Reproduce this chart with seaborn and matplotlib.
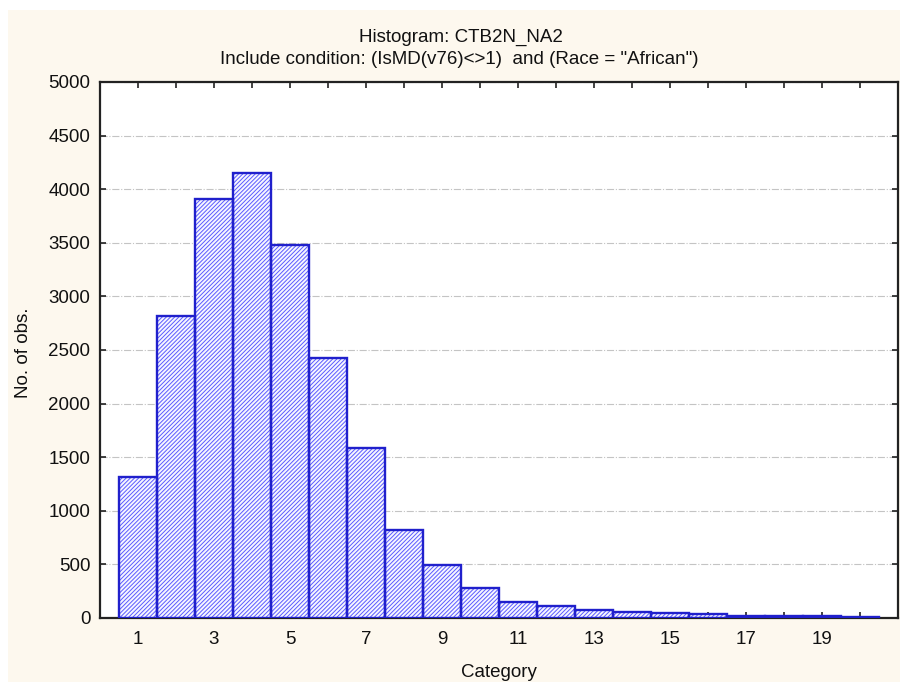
import matplotlib

matplotlib.use("Agg")
import matplotlib.pyplot as plt
import pandas as pd
import seaborn as sns
from matplotlib.patches import Rectangle


# Histogram of CTB2N_NA2 (counts)
categories = list(range(1, 21))
counts = [1315, 2820, 3909, 4154, 3482, 2428, 1583, 821, 491, 277,
          150, 110, 70, 56, 44, 33, 21, 15, 14, 8]
y_ticks = list(range(0, 5001, 500))
x_tick_labels = [str(c) if c % 2 == 1 else "" for c in categories]

TITLE_1 = "Histogram: CTB2N_NA2"
TITLE_2 = 'Include condition: (IsMD(v76)<>1)  and (Race = "African")'

PANEL_COLOR = "#fdf8ee"
BAR_EDGE = "#2020cc"
HATCH_BLUE = "#5a5aff"
FONT_SIZE = 13.5

sns.set_theme(style="white")
plt.rcParams["font.family"] = ["Liberation Sans", "DejaVu Sans"]
plt.rcParams["hatch.linewidth"] = 0.7

df = pd.DataFrame({"category": categories, "count": counts})

fig = plt.figure(figsize=(9, 6.82), dpi=100, facecolor="white")
# beige panel (screenshot frame), leaving a thin white strip on top/left
fig.patches.append(Rectangle((8 / 900, 0), 1, 1 - 10 / 682, transform=fig.transFigure,
                             facecolor=PANEL_COLOR, edgecolor="none", zorder=-10))

ax = fig.add_axes([100 / 900, 1 - 618 / 682, 798 / 900, 536 / 682])
ax.set_facecolor("white")

# hatched fill layer
sns.barplot(data=df, x="category", y="count", native_scale=True, width=1,
            color="white", ax=ax, zorder=3)
for bar in ax.patches:
    bar.set_facecolor("#f6f6ff")
    bar.set_edgecolor(HATCH_BLUE)
    bar.set_linewidth(0)
    bar.set_hatch("////////")

# outline layer on top
n_fill = len(ax.patches)
sns.barplot(data=df, x="category", y="count", native_scale=True, width=1,
            color=BAR_EDGE, fill=False, ax=ax, zorder=4)
for bar in ax.patches[n_fill:]:
    bar.set_facecolor("none")
    bar.set_edgecolor(BAR_EDGE)
    bar.set_linewidth(1.7)

ax.set_xlim(0, 21)
ax.set_ylim(0, 5000)
ax.set_xticks(categories)
ax.set_xticklabels(x_tick_labels)
ax.set_yticks(y_ticks)
ax.set_yticklabels([str(v) for v in y_ticks])

ax.yaxis.grid(True, linestyle="-.", color="#c4c4c4", linewidth=0.8)
ax.xaxis.grid(False)
ax.set_axisbelow(True)

ax.tick_params(axis="x", direction="in", top=True, bottom=True, length=4, width=1.2,
               color="#222222", labelsize=FONT_SIZE, pad=9, labelcolor="#111111")
ax.tick_params(axis="y", direction="in", left=True, right=True, length=4, width=1.2,
               color="#222222", labelsize=FONT_SIZE, pad=7, labelcolor="#111111")

for side in ["left", "bottom", "top", "right"]:
    ax.spines[side].set_visible(True)
    ax.spines[side].set_color("#222222")
    ax.spines[side].set_linewidth(1.6)

ax.set_xlabel("Category", fontsize=FONT_SIZE, color="#111111")
ax.set_ylabel("No. of obs.", fontsize=FONT_SIZE, color="#111111")
ax.xaxis.set_label_coords(0.5, -0.085)
ax.yaxis.set_label_coords(-0.085, 0.495)

fig.text(461 / 900, 1 - 37 / 682, TITLE_1, fontsize=FONT_SIZE, color="#111111",
         ha="center", va="center")
fig.text(459 / 900, 1 - 60 / 682, TITLE_2, fontsize=FONT_SIZE, color="#111111",
         ha="center", va="center")

fig.savefig("out.png", dpi=100, facecolor=fig.get_facecolor())
